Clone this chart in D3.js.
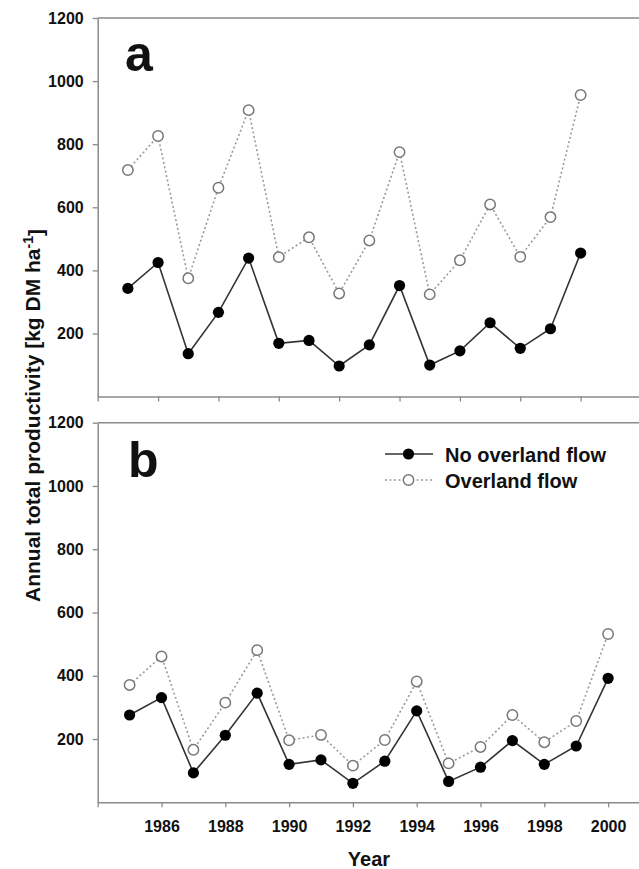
<!DOCTYPE html>
<html>
<head>
<meta charset="utf-8">
<script src="https://cdn.jsdelivr.net/npm/d3@7"></script>
<style>
  html, body { margin: 0; padding: 0; background: #fff; }
  svg { display: block; }
  text { font-family: "Liberation Sans", Arial, sans-serif; font-weight: bold; fill: #111; }
</style>
</head>
<body>
<svg id="chart" width="639" height="869"></svg>
<script>
// ---- data ----
const years = [1985,1986,1987,1988,1989,1990,1991,1992,1993,1994,1995,1996,1997,1998,1999,2000];
const aNoOverland = [343,425,136,267,439,169,178,97,164,352,100,145,234,153,215,455];
const aOverland   = [718,826,375,662,908,442,505,327,495,775,324,432,609,443,569,956];
const bNoOverland = [276,331,93,212,345,120,134,60,130,289,66,111,195,120,178,392];
const bOverland   = [371,461,166,315,481,196,213,116,197,382,123,175,276,190,257,532];
const yTicks = [200,400,600,800,1000,1200];
const xTicks = [1984,1986,1988,1990,1992,1994,1996,1998,2000];
const seriesNames = ["No overland flow", "Overland flow"];
const yTitle = "Annual total productivity [kg DM ha";
const xTitle = "Year";

const svg = d3.select("#chart");
const axisColor = "#8a8a8a";

function panel(opts) {
  const x = d3.scaleLinear().domain(opts.xDomain).range([97.7, opts.xRight]);
  const y = d3.scaleLinear().domain([0, 1200]).range([opts.bottom, opts.top]);
  const g = svg.append("g");

  // top border
  g.append("line").attr("x1", x.range()[0]).attr("x2", 639)
    .attr("y1", y(1200)).attr("y2", y(1200))
    .attr("stroke", axisColor).attr("stroke-width", 1.5);

  // x axis
  const xa = d3.axisBottom(x).tickValues(xTicks).tickSize(5).tickSizeOuter(0).tickPadding(13)
    .tickFormat(d => (opts.showXLabels && d !== 1984) ? String(d) : "");
  const gx = g.append("g").attr("transform", `translate(0,${y(0)})`).call(xa);
  gx.select(".domain").attr("stroke", axisColor).attr("stroke-width", 1.5);
  gx.selectAll(".tick line").attr("stroke", axisColor).attr("stroke-width", 1.3);
  gx.selectAll(".tick text").style("font-size", "16px").style("font-weight", "bold")
    .style("font-family", '"Liberation Sans", Arial, sans-serif').attr("fill", "#111");

  // y axis
  const ya = d3.axisLeft(y).tickValues(yTicks).tickSize(5).tickSizeOuter(0).tickPadding(9)
    .tickFormat(d3.format("d"));
  const gy = g.append("g").attr("transform", `translate(${x.range()[0]},0)`).call(ya);
  gy.select(".domain").attr("stroke", axisColor).attr("stroke-width", 1.5);
  gy.selectAll(".tick line").attr("stroke", axisColor).attr("stroke-width", 1.3);
  gy.selectAll(".tick text").style("font-size", "16px").style("font-weight", "bold")
    .style("font-family", '"Liberation Sans", Arial, sans-serif').attr("fill", "#111");

  // panel letter
  g.append("text").attr("x", opts.letterX).attr("y", opts.letterY)
    .style("font-size", "50px").text(opts.letter);

  const line = d3.line().x((d, i) => x(years[i])).y(d => y(d));

  // overland flow (dotted, open)
  g.append("path").datum(opts.over).attr("d", line)
    .attr("fill", "none").attr("stroke", "#9a9a9a").attr("stroke-width", 1.6)
    .attr("stroke-dasharray", "2,2.5");
  // no overland flow (solid, filled)
  g.append("path").datum(opts.noOver).attr("d", line)
    .attr("fill", "none").attr("stroke", "#333").attr("stroke-width", 1.6);

  g.selectAll("circle.over").data(opts.over).enter().append("circle")
    .attr("class", "over")
    .attr("cx", (d, i) => x(years[i])).attr("cy", d => y(d)).attr("r", 5.2)
    .attr("fill", "#fff").attr("stroke", "#777").attr("stroke-width", 1.5);
  g.selectAll("circle.no").data(opts.noOver).enter().append("circle")
    .attr("class", "no")
    .attr("cx", (d, i) => x(years[i])).attr("cy", d => y(d)).attr("r", 5.6)
    .attr("fill", "#000");
  return {x, y, g};
}

panel({xDomain: [1984, 2002], xRight: 641, top: 18, bottom: 396.6,
  noOver: aNoOverland, over: aOverland, letter: "a", letterX: 125, letterY: 71, showXLabels: false});
const pb = panel({xDomain: [1984, 2001], xRight: 640, top: 422.7, bottom: 802.3,
  noOver: bNoOverland, over: bOverland, letter: "b", letterX: 128, letterY: 477, showXLabels: true});

// legend
const leg = svg.append("g");
const legRows = [
  {name: seriesNames[0], y: 454, solid: true},
  {name: seriesNames[1], y: 480, solid: false}
];
legRows.forEach(r => {
  leg.append("line").attr("x1", 385).attr("x2", 433).attr("y1", r.y).attr("y2", r.y)
    .attr("stroke", r.solid ? "#333" : "#9a9a9a").attr("stroke-width", 1.6)
    .attr("stroke-dasharray", r.solid ? null : "2,2.5");
  if (r.solid) {
    leg.append("circle").attr("cx", 408.5).attr("cy", r.y).attr("r", 5.6).attr("fill", "#000");
  } else {
    leg.append("circle").attr("cx", 408.5).attr("cy", r.y).attr("r", 5.2)
      .attr("fill", "#fff").attr("stroke", "#777").attr("stroke-width", 1.5);
  }
  leg.append("text").attr("x", 445).attr("y", r.y + 7.5).style("font-size", "20px").text(r.name);
});

// y title
const yt = svg.append("text")
  .attr("transform", "translate(39.5,415.5) rotate(-90)")
  .attr("text-anchor", "middle")
  .style("font-size", "21px");
yt.append("tspan").text(yTitle);
yt.append("tspan").attr("dy", "-0.45em").style("font-size", "14px").text("-1");
yt.append("tspan").attr("dy", "0.45em").text("]");

// x title
svg.append("text").attr("x", 369).attr("y", 866).attr("text-anchor", "middle")
  .style("font-size", "20px").text(xTitle);
</script>
</body>
</html>
